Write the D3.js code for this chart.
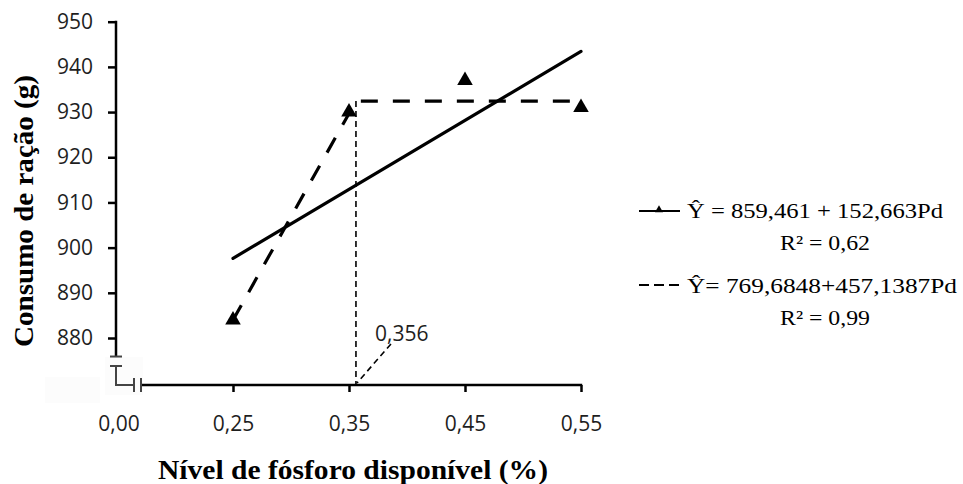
<!DOCTYPE html>
<html>
<head>
<meta charset="utf-8">
<script src="https://cdn.jsdelivr.net/npm/d3@7"></script>
<style>
  html, body { margin: 0; padding: 0; background: #fff; }
  svg { display: block; }
</style>
</head>
<body>
<svg id="chart" width="963" height="484"></svg>
<script>
// ---------------- data ----------------
const pdLevels = [0.25, 0.35, 0.45, 0.55];           // Nível de fósforo disponível (%)
const consumo = [884, 930, 937, 931];                 // Consumo de ração (g)
const yTickValues = [880, 890, 900, 910, 920, 930, 940, 950];
const xTickValues = [0.25, 0.35, 0.45, 0.55];
const xBreakLabel = ["0,00"];
const linearCoef = [859.461, 152.663];                // Ŷ = a + b·Pd
const plateauCoef = [769.6848, 457.1387];             // Ŷ = a + b·Pd (LRP)
const breakPoint = [0.356];
const legendLines = ["Ŷ = 859,461 + 152,663Pd", "R² = 0,62", "Ŷ= 769,6848+457,1387Pd", "R² = 0,99"];
const yTitle = "Consumo de ração (g)";
const xTitle = "Nível de fósforo disponível (%)";

// ---------------- layout ----------------
const svg = d3.select("#chart");
const axisX = 116, axisY = 385;
const x = d3.scaleLinear().domain([0.25, 0.55]).range([233, 581]);
const y = d3.scaleLinear().domain([880, 950]).range([338, 21.7]);
const comma = v => d3.format(".2f")(v).replace(".", ",");
const tickFont = "'Open Sans', sans-serif";

// very faint background patches (as in the source image)
svg.append("rect").attr("x", 45).attr("y", 377).attr("width", 55).attr("height", 26).attr("fill", "#fcfcfc");
svg.append("rect").attr("x", 105).attr("y", 357).attr("width", 38).attr("height", 38).attr("fill", "#fcfcfc");

// ---------------- Y axis ----------------
const yAxis = d3.axisLeft(y).tickValues(yTickValues).tickSize(8).tickPadding(15).tickSizeOuter(0);
const gy = svg.append("g").attr("transform", `translate(${axisX},0)`).call(yAxis);
gy.select(".domain").remove();
gy.selectAll(".tick line").attr("stroke", "#000").attr("stroke-width", 2.5);
gy.selectAll(".tick text").attr("font-family", tickFont).attr("font-size", 21).attr("fill", "#1e1e1e");
svg.append("line").attr("x1", axisX).attr("x2", axisX)
  .attr("y1", y(950) - 1).attr("y2", y(875.9)).attr("stroke", "#000").attr("stroke-width", 2.5);

// ---------------- X axis ----------------
const xAxis = d3.axisBottom(x).tickValues(xTickValues).tickSize(7).tickPadding(24).tickSizeOuter(0).tickFormat(comma);
const gx = svg.append("g").attr("transform", `translate(0,${axisY})`).call(xAxis);
gx.select(".domain").remove();
gx.selectAll(".tick line").attr("stroke", "#000").attr("stroke-width", 2.5);
gx.selectAll(".tick text").attr("font-family", tickFont).attr("font-size", 21).attr("fill", "#1e1e1e");
svg.append("line").attr("x1", 141).attr("x2", x(0.55) + 1.2)
  .attr("y1", axisY).attr("y2", axisY).attr("stroke", "#000").attr("stroke-width", 2.5);
svg.append("text").attr("x", axisX + 3).attr("y", axisY + 31).attr("dy", "0.71em")
  .attr("text-anchor", "middle").attr("font-family", tickFont).attr("font-size", 21)
  .attr("fill", "#1e1e1e").text(xBreakLabel[0]);

// axis break symbol
const brk = svg.append("g").attr("stroke", "#444").attr("stroke-width", 2).attr("fill", "none");
brk.append("path").attr("d", `M${axisX - 6},${y(875.9)}H${axisX + 6}`);
brk.append("path").attr("d", `M${axisX - 6},366H${axisX + 6}M${axisX},366V${axisY}H${axisX + 18}`);
brk.append("path").attr("d", `M${axisX + 18},378V392M${axisX + 25},378V392`);

// ---------------- regression lines ----------------
const line = d3.line().x(d => x(d[0])).y(d => y(d[1]));
const linPts = [0.25, 0.55].map(p => [p, linearCoef[0] + linearCoef[1] * p]);
const plateau = plateauCoef[0] + plateauCoef[1] * breakPoint[0];
const lrpPts = [[0.25, plateauCoef[0] + plateauCoef[1] * 0.25], [breakPoint[0], plateau], [0.55, plateau]];

// vertical guide at the break point
svg.append("line").attr("x1", x(breakPoint[0])).attr("x2", x(breakPoint[0]))
  .attr("y1", y(plateau)).attr("y2", axisY)
  .attr("stroke", "#000").attr("stroke-width", 1.6).attr("stroke-dasharray", "6,4");

svg.append("path").datum(linPts).attr("d", line)
  .attr("fill", "none").attr("stroke", "#000").attr("stroke-width", 3.2).attr("stroke-linecap", "round");
svg.append("path").datum(lrpPts).attr("d", line)
  .attr("fill", "none").attr("stroke", "#000").attr("stroke-width", 3.2)
  .attr("stroke-dasharray", "17,15").attr("stroke-linejoin", "miter");

// ---------------- points ----------------
svg.selectAll(".pt").data(pdLevels).join("path").attr("class", "pt")
  .attr("transform", (d, i) => `translate(${x(d)},${y(consumo[i])})`)
  .attr("d", d3.symbol(d3.symbolTriangle, 105)).attr("fill", "#000");

// ---------------- break-point annotation ----------------
svg.append("line").attr("x1", x(breakPoint[0]) + 35).attr("y1", axisY - 41)
  .attr("x2", x(breakPoint[0]) + 1).attr("y2", axisY - 2)
  .attr("stroke", "#000").attr("stroke-width", 1.6).attr("stroke-dasharray", "6,4");
svg.append("text").attr("x", x(breakPoint[0]) + 19).attr("y", axisY - 44)
  .attr("font-family", tickFont).attr("font-size", 21).attr("fill", "#1e1e1e")
  .text(d3.format(".3f")(breakPoint[0]).replace(".", ","));

// ---------------- legend ----------------
const lg = svg.append("g");
lg.append("line").attr("x1", 639).attr("x2", 680).attr("y1", 211).attr("y2", 211)
  .attr("stroke", "#000").attr("stroke-width", 2.2);
lg.append("path").attr("transform", "translate(659,210)").attr("d", d3.symbol(d3.symbolTriangle, 28)).attr("fill", "#000");
lg.append("line").attr("x1", 639).attr("x2", 680).attr("y1", 285).attr("y2", 285)
  .attr("stroke", "#000").attr("stroke-width", 2.2).attr("stroke-dasharray", "10,5");
const legendPos = [[687, 218, 256], [780, 250, 90], [687, 293, 270], [780, 325, 90]];
lg.selectAll("text").data(legendLines).join("text")
  .attr("x", (d, i) => legendPos[i][0]).attr("y", (d, i) => legendPos[i][1])
  .attr("textLength", (d, i) => legendPos[i][2]).attr("lengthAdjust", "spacingAndGlyphs")
  .attr("font-family", "'Liberation Serif', 'Times New Roman', serif").attr("font-size", 21).attr("fill", "#000")
  .text(d => d);

// ---------------- axis titles ----------------
svg.append("text").attr("transform", "translate(33,211) rotate(-90)")
  .attr("text-anchor", "middle").attr("font-family", "'Liberation Serif', 'Times New Roman', serif")
  .attr("font-weight", "bold").attr("font-size", 28).attr("textLength", 272).attr("lengthAdjust", "spacingAndGlyphs")
  .text(yTitle);
svg.append("text").attr("x", 353).attr("y", 479)
  .attr("text-anchor", "middle").attr("font-family", "'Liberation Serif', 'Times New Roman', serif")
  .attr("font-weight", "bold").attr("font-size", 27).attr("textLength", 390).attr("lengthAdjust", "spacingAndGlyphs")
  .text(xTitle);
</script>
</body>
</html>
